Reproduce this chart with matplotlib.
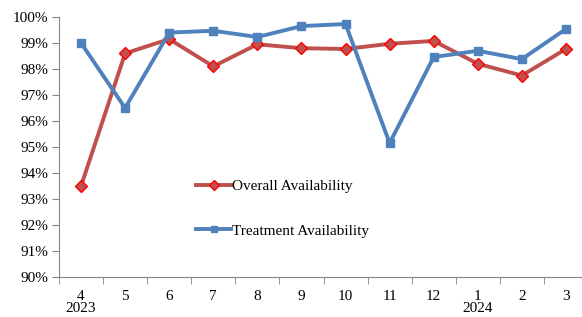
import matplotlib
matplotlib.use("Agg")
import matplotlib.pyplot as plt
from matplotlib.ticker import FuncFormatter

months = ["4", "5", "6", "7", "8", "9", "10", "11", "12", "1", "2", "3"]
years = {0: "2023", 9: "2024"}
overall = [93.5, 98.6, 99.15, 98.1, 98.95, 98.8, 98.77, 98.97, 99.08, 98.2, 97.75, 98.77]
treatment = [99.0, 96.5, 99.4, 99.47, 99.23, 99.65, 99.73, 95.15, 98.46, 98.7, 98.38, 99.54]

plt.rcParams["font.family"] = ["Liberation Serif", "DejaVu Serif"]

fig = plt.figure(figsize=(5.82, 3.17), dpi=100)
ax = fig.add_axes([59 / 582, 40 / 317, 529 / 582, 260 / 317])

x = list(range(len(months)))
ax.plot(x, overall, color="#C0504D", lw=2.8, marker="D", ms=6,
        mfc="#C0504D", mec="#FF0000", mew=1, label="Overall Availability")
ax.plot(x, treatment, color="#4F81BD", lw=2.8, marker="s", ms=6,
        mfc="#4F81BD", mec="#4F81BD", label="Treatment Availability")

ax.set_xlim(-0.5, len(months) - 0.5)
ax.set_ylim(90, 100)
ax.set_yticks(range(90, 101))
ax.yaxis.set_major_formatter(FuncFormatter(lambda v, p: f"{v:.0f}%"))
ax.set_xticks(x)
ax.set_xticklabels(months)
ax.set_xticks([i - 0.5 for i in range(len(months) + 1)], minor=True)
ax.tick_params(axis="x", which="major", length=0, pad=9, labelsize=11)
ax.tick_params(axis="x", which="minor", length=5, color="#868686")
ax.tick_params(axis="y", length=5, color="#868686", labelsize=11, pad=3)

for i, yr in years.items():
    ax.text(i, -0.098, yr, transform=ax.get_xaxis_transform(), ha="center",
            va="top", fontsize=11)

for s in ["top", "right"]:
    ax.spines[s].set_visible(False)
for s in ["left", "bottom"]:
    ax.spines[s].set_color("#868686")

ax.legend(loc="center left", bbox_to_anchor=(0.233, 0.263), frameon=False,
          fontsize=11, labelspacing=2.0, handlelength=2.3, handletextpad=0.05,
          markerscale=0.8)

fig.savefig("out.png", dpi=100)
